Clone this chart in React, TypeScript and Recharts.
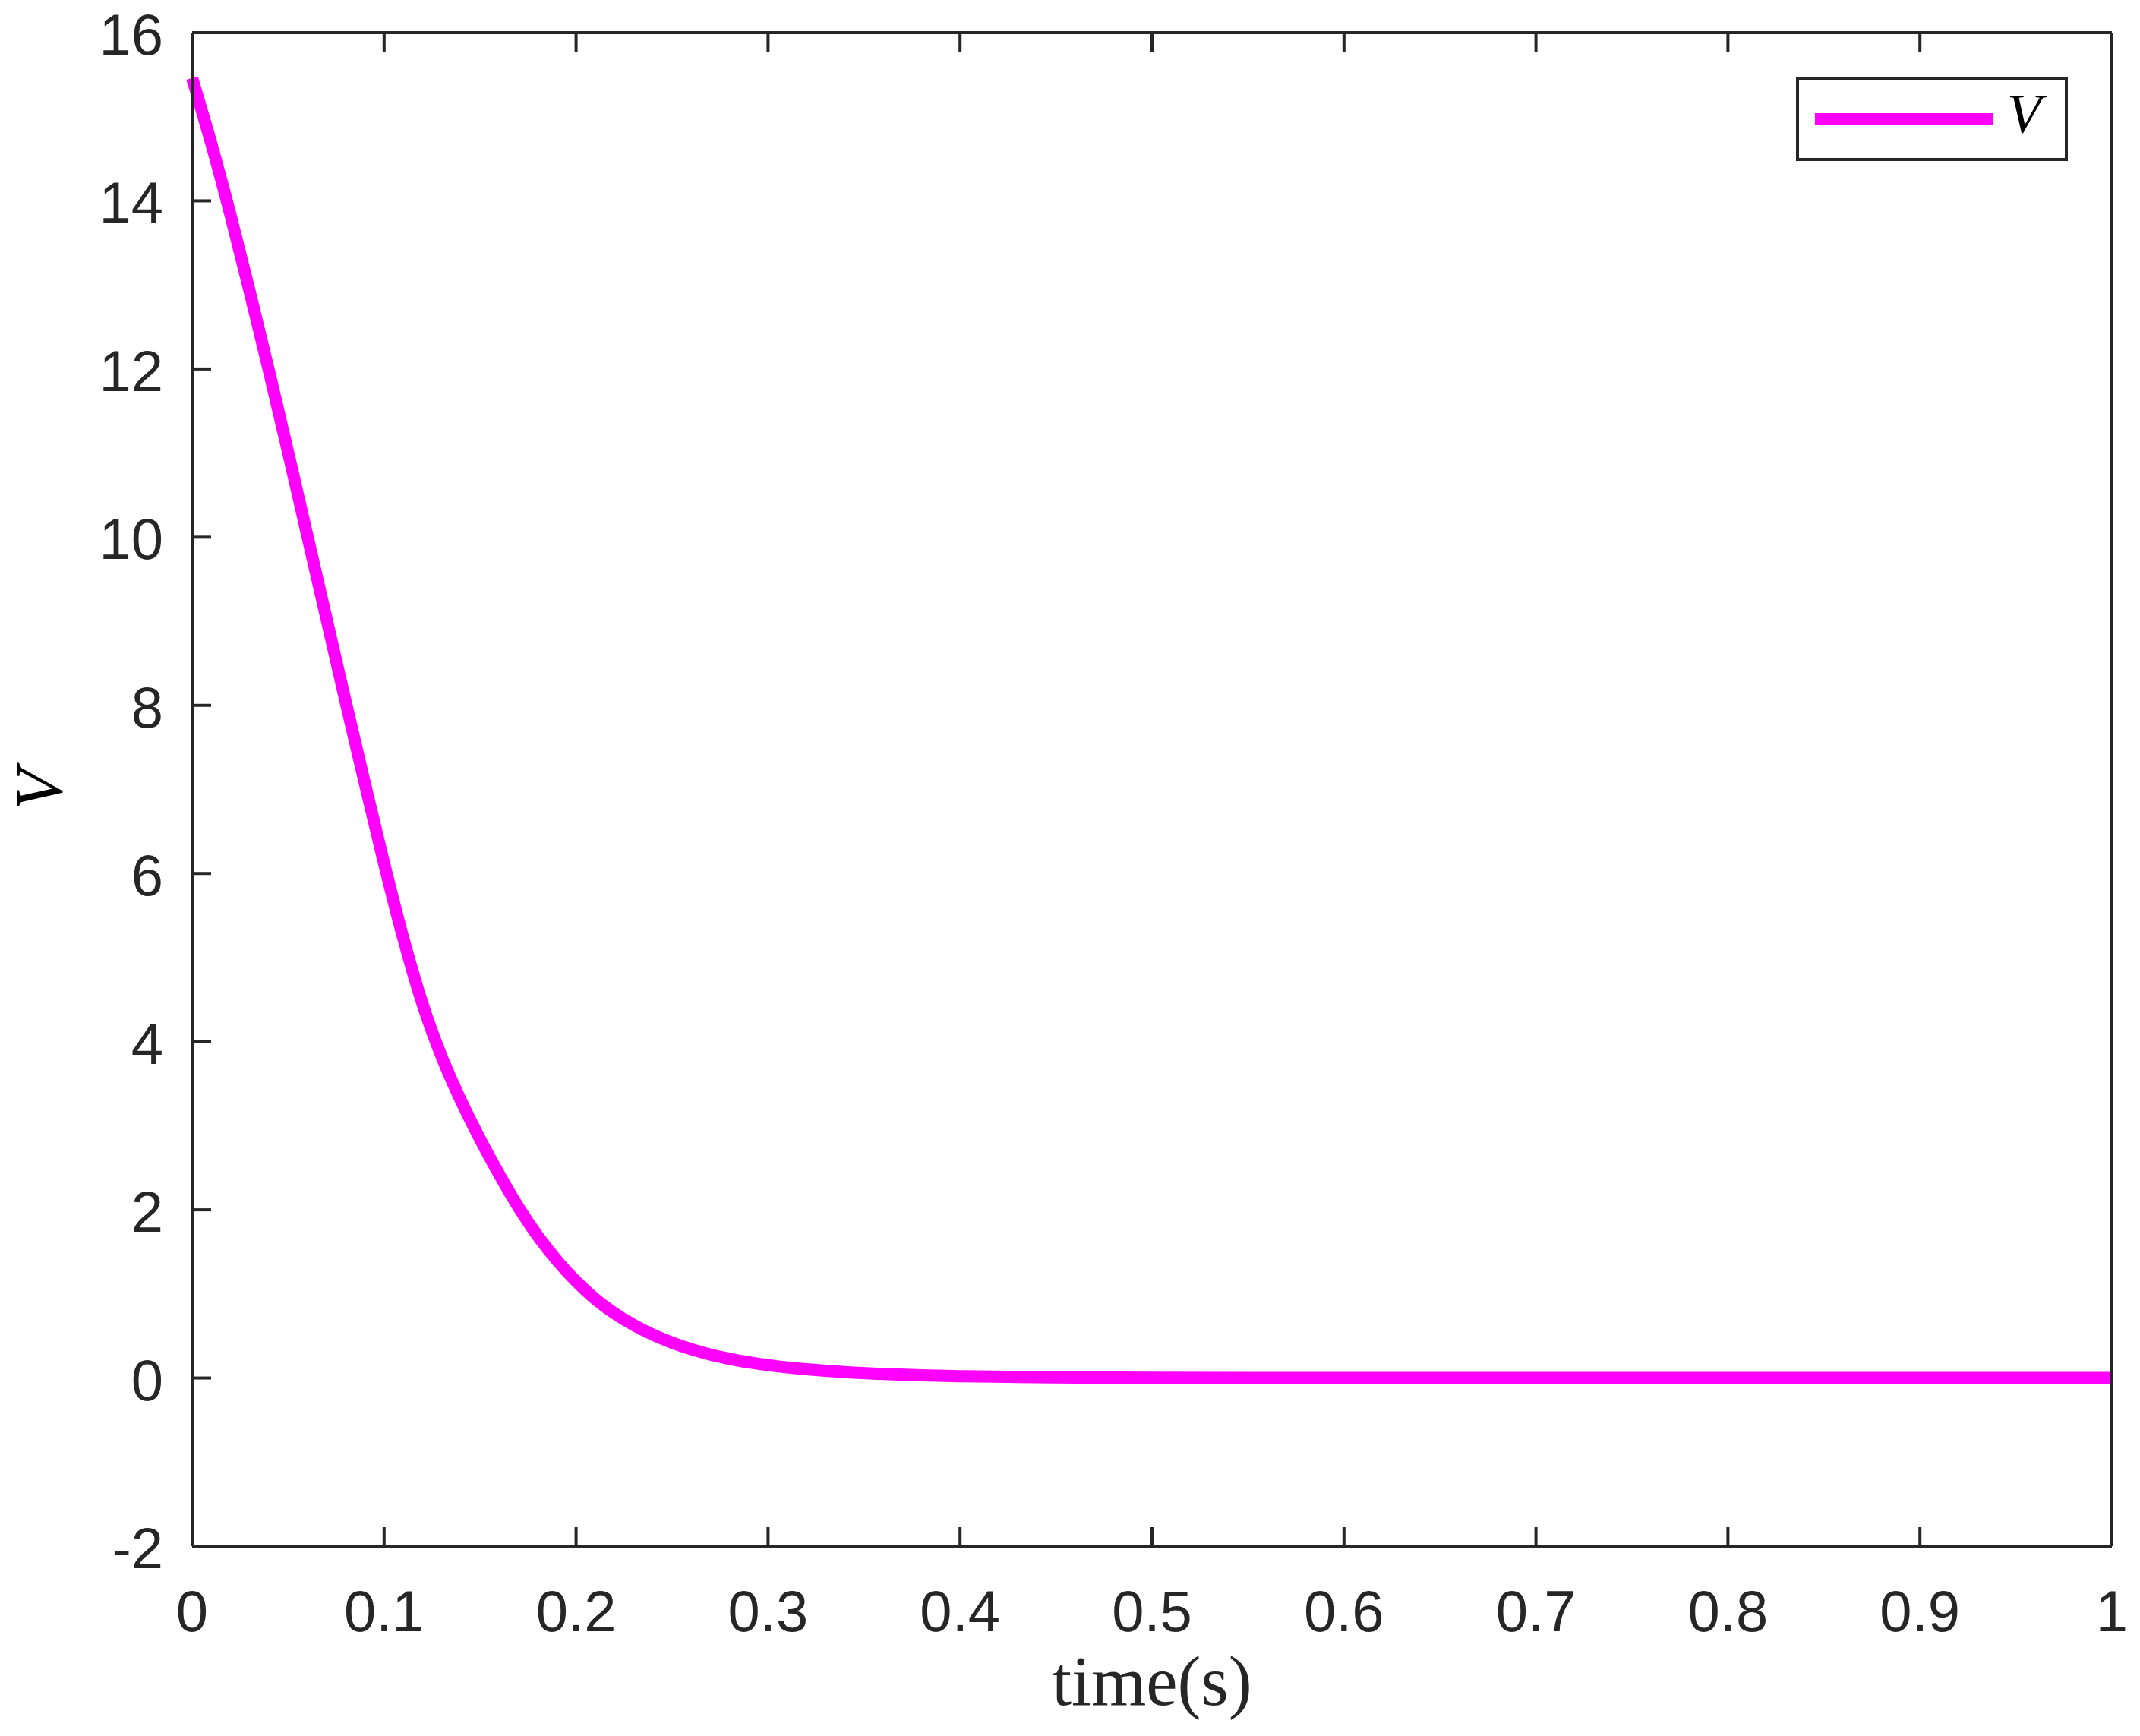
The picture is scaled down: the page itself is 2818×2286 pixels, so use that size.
import { LineChart, Line, XAxis, YAxis, Legend } from 'recharts';

// time (s)
const times = [
  0, 0.01, 0.02, 0.03, 0.04, 0.05, 0.06, 0.07, 0.08, 0.09, 0.1, 0.11, 0.12,
  0.13, 0.14, 0.15, 0.16, 0.17, 0.18, 0.19, 0.2, 0.21, 0.22, 0.23, 0.24, 0.25,
  0.26, 0.27, 0.28, 0.29, 0.3, 0.31, 0.32, 0.33, 0.34, 0.36, 0.38, 0.4, 0.43,
  0.46, 0.5, 0.6, 0.7, 0.8, 0.9, 1,
];
// V
const vValues = [
  15.46, 14.68, 13.83, 12.92, 11.98, 11.01, 10.02, 9.03, 8.04, 7.07, 6.12,
  5.23, 4.45, 3.82, 3.3, 2.84, 2.42, 2.03, 1.69, 1.4, 1.15, 0.94, 0.77, 0.63,
  0.515, 0.42, 0.342, 0.279, 0.228, 0.187, 0.153, 0.126, 0.104, 0.086, 0.071,
  0.048, 0.032, 0.021, 0.012, 0.006, 0.003, 0, 0, 0, 0, 0,
];
const xTicks = [0, 0.1, 0.2, 0.3, 0.4, 0.5, 0.6, 0.7, 0.8, 0.9, 1];
const yTicks = [-2, 0, 2, 4, 6, 8, 10, 12, 14, 16];

const data = times.map((t, i) => ({ t, v: vValues[i] }));

const AXIS = '#262626';
const MAGENTA = '#FF00FF';
const SANS = '"Liberation Sans", Arial, Helvetica, sans-serif';
const SERIF = '"Liberation Serif", "Times New Roman", serif';
const TICK_LEN = 25;

const BottomTick = ({ x, y, payload }: any) => (
  <g>
    <line x1={x} y1={y} x2={x} y2={y - TICK_LEN} stroke={AXIS} strokeWidth={4} />
    <text
      x={x}
      y={y + 112}
      textAnchor='middle'
      fontFamily={SANS}
      fontSize={76}
      fill={AXIS}
    >
      {payload.value}
    </text>
  </g>
);

const TopTick = ({ x, y }: any) => (
  <line x1={x} y1={y} x2={x} y2={y + TICK_LEN} stroke={AXIS} strokeWidth={4} />
);

const LeftTick = ({ x, y, payload }: any) => (
  <g>
    <line x1={x} y1={y} x2={x + TICK_LEN} y2={y} stroke={AXIS} strokeWidth={4} />
    <text
      x={x - 38}
      y={y + 29}
      textAnchor='end'
      fontFamily={SANS}
      fontSize={76}
      fill={AXIS}
    >
      {payload.value}
    </text>
  </g>
);

const RightTick = ({ x, y }: any) => (
  <line x1={x} y1={y} x2={x - TICK_LEN} y2={y} stroke={AXIS} strokeWidth={4} />
);

const XLabel = ({ viewBox }: any) => {
  const { x, y, width } = viewBox;
  return (
    <text
      x={x + width / 2}
      y={y + 209}
      textAnchor='middle'
      fontFamily={SERIF}
      fontSize={93}
      fill={AXIS}
    >
      time(s)
    </text>
  );
};

const YLabel = ({ viewBox }: any) => {
  const { x, y, height } = viewBox;
  const cx = x + 51;
  const cy = y + height / 2;
  return (
    <text
      x={cx}
      y={cy}
      transform={`rotate(-90, ${cx}, ${cy})`}
      textAnchor='middle'
      dominantBaseline='central'
      fontFamily={SERIF}
      fontStyle='italic'
      fontSize={88}
      fill='#000'
    >
      V
    </text>
  );
};

const LegendBox = () => (
  <svg width={358} height={111} style={{ display: 'block' }}>
    <rect x={2} y={2} width={354} height={107} fill='#fff' stroke={AXIS} strokeWidth={4} />
    <line x1={25} y1={56} x2={260} y2={56} stroke={MAGENTA} strokeWidth={16} />
    <text
      x={278}
      y={74}
      fontFamily={SERIF}
      fontStyle='italic'
      fontSize={74}
      fill='#000'
    >
      V
    </text>
  </svg>
);

export default function App() {
  return (
    <div
      style={{
        position: 'absolute',
        left: 0,
        top: 0,
        width: 2818,
        height: 2286,
        background: '#fff',
      }}
    >
      <LineChart
        width={2818}
        height={2286}
        data={data}
        margin={{ top: 42, right: 36, bottom: 0, left: 0 }}
      >
        <XAxis
          dataKey='t'
          type='number'
          domain={[0, 1]}
          ticks={xTicks}
          height={250}
          tickSize={0}
          tickMargin={0}
          tickLine={false}
          axisLine={{ stroke: AXIS, strokeWidth: 4 }}
          tick={<BottomTick />}
          label={<XLabel />}
        />
        <XAxis
          xAxisId='top'
          orientation='top'
          dataKey='t'
          type='number'
          domain={[0, 1]}
          ticks={xTicks}
          height={1}
          tickSize={0}
          tickMargin={0}
          tickLine={false}
          axisLine={{ stroke: AXIS, strokeWidth: 4 }}
          tick={<TopTick />}
        />
        <YAxis
          type='number'
          domain={[-2, 16]}
          ticks={yTicks}
          width={253}
          tickSize={0}
          tickMargin={0}
          tickLine={false}
          axisLine={{ stroke: AXIS, strokeWidth: 4 }}
          tick={<LeftTick />}
          label={<YLabel />}
        />
        <YAxis
          yAxisId='right'
          orientation='right'
          type='number'
          domain={[-2, 16]}
          ticks={yTicks}
          width={1}
          tickSize={0}
          tickMargin={0}
          tickLine={false}
          axisLine={{ stroke: AXIS, strokeWidth: 4 }}
          tick={<RightTick />}
        />
        <Legend
          layout='horizontal'
          align='center'
          verticalAlign='middle'
          content={<LegendBox />}
          wrapperStyle={{ position: 'absolute', left: 2365, top: 101, width: 358, height: 111 }}
        />
        <Line
          type='monotone'
          dataKey='v'
          stroke={MAGENTA}
          strokeWidth={16}
          dot={false}
          activeDot={false}
          isAnimationActive={false}
        />
      </LineChart>
    </div>
  );
}
